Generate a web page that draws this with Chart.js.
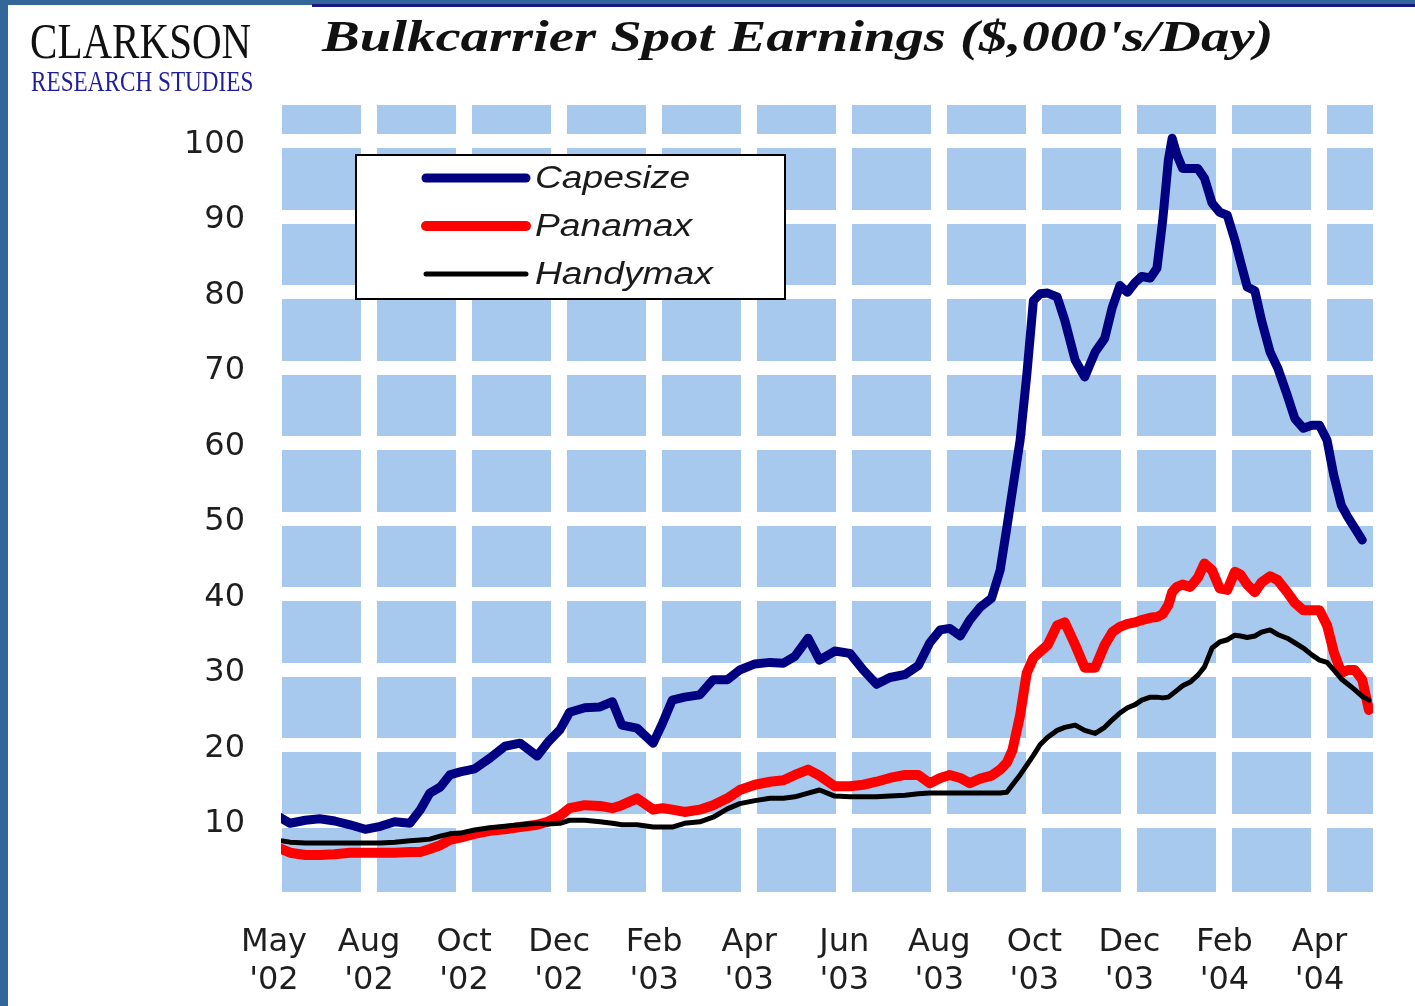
<!DOCTYPE html>
<html>
<head>
<meta charset="utf-8">
<script src="https://cdn.jsdelivr.net/npm/chart.js@4/dist/chart.umd.min.js"></script>
<style>
html,body{margin:0;padding:0;background:#fff;}
#page{position:relative;width:1415px;height:1006px;overflow:hidden;background:#fff;}
#wrap{position:absolute;left:0;top:0;width:1415px;height:1006px;}
.strip-left{position:absolute;left:0;top:0;width:8px;height:1006px;background:#336699;}
.strip-top{position:absolute;left:0;top:0;width:1415px;height:5px;background:#336699;}
.navy-line{position:absolute;left:312px;top:4px;width:1103px;height:3px;background:#1a1a80;}
.logo1{position:absolute;left:30px;top:16px;font-family:"Liberation Serif",serif;font-size:51px;line-height:51px;color:#111;transform:scaleX(0.805);transform-origin:0 0;white-space:nowrap;}
.logo2{position:absolute;left:31px;top:67px;font-family:"Liberation Serif",serif;font-size:29px;line-height:29px;color:#1f1f99;transform:scaleX(0.8);transform-origin:0 0;white-space:nowrap;}
.title{position:absolute;left:322px;top:14px;font-family:"Liberation Serif",serif;font-style:italic;font-weight:bold;font-size:45px;line-height:45px;color:#111;transform:scaleX(1.26);transform-origin:0 0;white-space:nowrap;}
</style>
</head>
<body>
<div id="page">
  <div id="wrap"><canvas id="c"></canvas></div>
  <div class="strip-left"></div>
  <div class="strip-top"></div>
  <div class="navy-line"></div>
  <div class="logo1">CLARKSON</div>
  <div class="logo2">RESEARCH STUDIES</div>
  <div class="title">Bulkcarrier Spot Earnings ($,000's/Day)</div>
</div>
<script>
// ---- Data ----
const monthLabels = ["May","Aug","Oct","Dec","Feb","Apr","Jun","Aug","Oct","Dec","Feb","Apr"];
const yearLabels  = ["'02","'02","'02","'02","'03","'03","'03","'03","'03","'03","'04","'04"];
const yTicks = [10,20,30,40,50,60,70,80,90,100];
const seriesNames = ["Capesize","Panamax","Handymax"];

// x position measured in label-slot units (0 = May '02 ... 11 = Apr '04)
const xPos = [0.02,0.17,0.33,0.48,0.64,0.80,0.96,1.12,1.27,1.43,1.54,1.64,1.75,1.85,1.96,2.11,2.27,2.43,2.59,2.77,
2.88,3.01,3.11,3.27,3.43,3.56,3.66,3.82,3.99,4.09,4.19,4.32,4.48,4.62,4.77,4.90,5.06,5.22,5.36,5.48,
5.62,5.74,5.90,6.06,6.20,6.34,6.48,6.64,6.78,6.90,7.01,7.11,7.22,7.32,7.43,7.55,7.64,7.71,7.77,7.85,
7.92,7.99,8.06,8.14,8.24,8.32,8.43,8.53,8.64,8.74,8.82,8.90,8.98,9.06,9.13,9.22,9.29,9.35,9.41,9.45,
9.50,9.56,9.64,9.72,9.79,9.87,9.95,10.03,10.11,10.17,10.24,10.32,10.39,10.48,10.56,10.66,10.74,10.83,10.92,11.00,
11.08,11.15,11.23,11.30,11.37,11.45,11.52];

const capesize = [10.8,9.7,10.1,10.3,10.0,9.5,8.9,9.3,9.9,9.7,11.5,13.7,14.5,16.1,16.5,16.9,18.3,19.9,20.3,18.6,
20.4,22.1,24.4,25.0,25.1,25.8,22.7,22.3,20.3,23.0,26.0,26.4,26.7,28.7,28.7,30.0,30.8,31.0,30.9,31.8,
34.2,31.3,32.5,32.2,30.0,28.1,29.0,29.4,30.6,33.6,35.3,35.5,34.5,36.6,38.3,39.5,43.2,48.8,53.8,60.4,
69.0,78.9,79.8,79.9,79.4,76.3,71.0,68.8,72.1,73.9,78.0,80.9,80.0,81.3,82.1,81.9,83.2,89.5,97.5,100.4,
98.2,96.4,96.4,96.4,95.1,91.8,90.6,90.2,86.9,84.0,80.7,80.2,76.3,72.1,70.0,66.4,63.3,62.0,62.4,62.4,
60.4,55.8,51.8,50.2,48.8,47.2,null];

const panamax = [6.6,5.8,5.5,5.5,5.6,5.8,5.8,5.8,5.8,5.9,5.9,6.3,6.8,7.5,7.8,8.3,8.7,8.9,9.2,9.5,
9.9,10.7,11.7,12.1,12.0,11.7,12.1,13.0,11.5,11.7,11.5,11.2,11.5,12.1,13.0,14.1,14.8,15.2,15.4,16.1,
16.8,16.0,14.6,14.6,14.8,15.2,15.7,16.1,16.1,15.0,15.7,16.1,15.7,15.0,15.6,16.0,16.8,17.7,19.4,24.0,
29.6,31.6,32.4,33.3,35.9,36.3,33.3,30.3,30.3,33.3,35.0,35.7,36.1,36.3,36.6,36.9,37.0,37.4,38.6,40.3,
41.0,41.3,41.0,42.2,44.1,43.2,40.8,40.6,43.0,42.6,41.3,40.3,41.6,42.4,41.9,40.3,38.9,37.9,37.9,37.9,
35.9,32.4,29.6,30.0,30.0,28.7,24.7];

const handymax = [7.5,7.2,7.1,7.1,7.1,7.1,7.1,7.1,7.2,7.4,7.5,7.6,8.0,8.3,8.4,8.8,9.1,9.3,9.5,9.7,
9.6,9.7,10.1,10.1,9.9,9.7,9.5,9.5,9.2,9.2,9.2,9.7,9.9,10.5,11.6,12.3,12.7,13.0,13.0,13.2,
13.7,14.1,13.3,13.2,13.2,13.2,13.3,13.4,13.6,13.7,13.7,13.7,13.7,13.7,13.7,13.7,13.7,13.8,14.8,16.1,
17.4,18.7,20.1,21.1,22.0,22.4,22.7,22.0,21.6,22.4,23.4,24.3,25.0,25.4,26.0,26.4,26.4,26.3,26.4,26.8,
27.3,27.9,28.4,29.3,30.4,32.9,33.7,34.0,34.6,34.5,34.3,34.5,35.0,35.3,34.7,34.2,33.6,32.9,32.0,31.3,
31.0,30.0,28.8,28.1,27.4,26.5,26.0];

const pts = arr => xPos.map((x, i) => ({x: x, y: arr[i]}));

// ---- Plugins ----
const cellBackground = {
  id: 'cellBackground',
  beforeDraw(chart) {
    const {ctx, chartArea: a} = chart;
    ctx.save();
    ctx.fillStyle = '#a8c9ee';
    ctx.fillRect(a.left, a.top, a.right - a.left, a.bottom - a.top);
    ctx.restore();
  }
};

const boxLegend = {
  id: 'boxLegend',
  afterDraw(chart) {
    const {ctx, chartArea: a} = chart;
    const bx = a.left + 75, by = a.top + 50, bw = 429, bh = 144;
    ctx.save();
    ctx.fillStyle = '#fff';
    ctx.fillRect(bx, by, bw, bh);
    ctx.lineWidth = 2;
    ctx.strokeStyle = '#000';
    ctx.strokeRect(bx, by, bw, bh);
    chart.data.datasets.forEach((ds, i) => {
      const y = by + 23 + i * 48;
      ctx.beginPath();
      ctx.moveTo(bx + 70, y);
      ctx.lineTo(bx + 170, y);
      ctx.lineWidth = ds.borderWidth;
      ctx.strokeStyle = ds.borderColor;
      ctx.lineCap = 'round';
      ctx.stroke();
      ctx.save();
      ctx.translate(bx + 179, y + 1);
      ctx.scale(1.2, 1);
      ctx.font = 'italic 31px "Liberation Sans", Arial, sans-serif';
      ctx.fillStyle = '#1a1a1a';
      ctx.textBaseline = 'middle';
      ctx.fillText(ds.label, 0, 0);
      ctx.restore();
    });
    ctx.restore();
  }
};

new Chart(document.getElementById('c'), {
  type: 'line',
  data: {
    datasets: [
      {label: seriesNames[0], data: pts(capesize), borderColor: '#000080', borderWidth: 9, order: 2},
      {label: seriesNames[1], data: pts(panamax), borderColor: '#ff0000', borderWidth: 10, order: 1},
      {label: seriesNames[2], data: pts(handymax), borderColor: '#000000', borderWidth: 5, order: 0}
    ]
  },
  options: {
    responsive: true,
    maintainAspectRatio: false,
    animation: false,
    layout: {padding: {left: 0, right: 42, top: 105, bottom: 0}},
    elements: {
      point: {radius: 0},
      line: {tension: 0, borderJoinStyle: 'round', borderCapStyle: 'round', fill: false}
    },
    plugins: {legend: {display: false}, tooltip: {enabled: false}, title: {display: false}},
    scales: {
      x: {
        type: 'linear',
        min: 0.074,
        max: 11.563,
        afterBuildTicks(scale) { scale.ticks = monthLabels.map((m, i) => ({value: i})); },
        afterFit(scale) { scale.height = 114; },
        grid: {color: '#ffffff', lineWidth: 16, drawTicks: false},
        border: {display: false},
        ticks: {
          autoSkip: false, maxRotation: 0, minRotation: 0, padding: 31,
          color: '#1e1e1e',
          font: {family: '"DejaVu Sans", sans-serif', size: 32, lineHeight: 1.2},
          callback: (v) => [monthLabels[v], yearLabels[v]]
        }
      },
      y: {
        type: 'linear',
        min: 0.6,
        max: 104.8,
        afterBuildTicks(scale) { scale.ticks = yTicks.map(v => ({value: v})); },
        afterFit(scale) { scale.width = 281; },
        grid: {color: '#ffffff', lineWidth: 14, drawTicks: false},
        border: {display: false},
        ticks: {
          padding: 36,
          labelOffset: 3,
          color: '#1e1e1e',
          font: {family: '"DejaVu Sans", sans-serif', size: 32},
          callback: (v) => String(v)
        }
      }
    }
  },
  plugins: [cellBackground, boxLegend]
});
</script>
</body>
</html>
